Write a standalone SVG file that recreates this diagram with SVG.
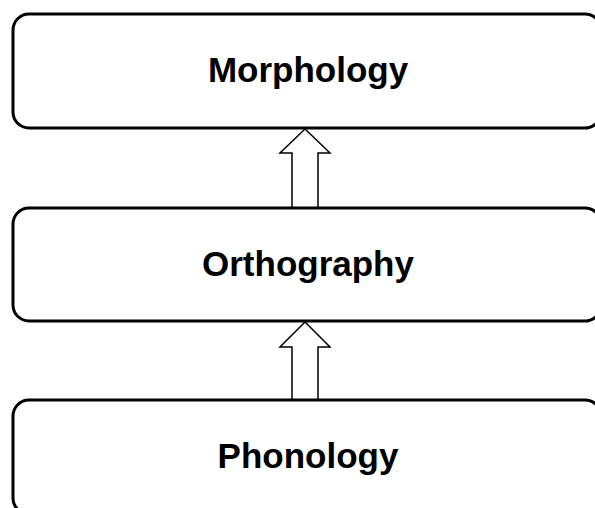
<svg xmlns="http://www.w3.org/2000/svg" width="595" height="508" viewBox="0 0 595 508">
<style>
.box{fill:#fff;stroke:#000;stroke-width:3}
.lbl{font-family:"Liberation Sans",Arial,sans-serif;font-weight:bold;font-size:35px;text-anchor:middle;fill:#000}
.arr{fill:#fff;stroke:#000;stroke-width:1.5;stroke-linejoin:miter}
</style>
<rect width="595" height="508" fill="#fff"/>
<g id="connectors">
<path class="arr" d="M305,129 L330,153 L318,153 L318,208 L292,208 L292,153 L280,153 Z"/>
<path class="arr" d="M305,322 L330,347 L318,347 L318,400 L292,400 L292,347 L280,347 Z"/>
</g>
<g id="morphology">
<rect class="box" x="13" y="14" width="588" height="114" rx="16"/>
<text class="lbl" x="308" y="82">Morphology</text>
</g>
<g id="orthography">
<rect class="box" x="13" y="208" width="588" height="113" rx="16"/>
<text class="lbl" x="308" y="276">Orthography</text>
</g>
<g id="phonology">
<rect class="box" x="13" y="400" width="588" height="114" rx="16"/>
<text class="lbl" x="308" y="468">Phonology</text>
</g>
</svg>
